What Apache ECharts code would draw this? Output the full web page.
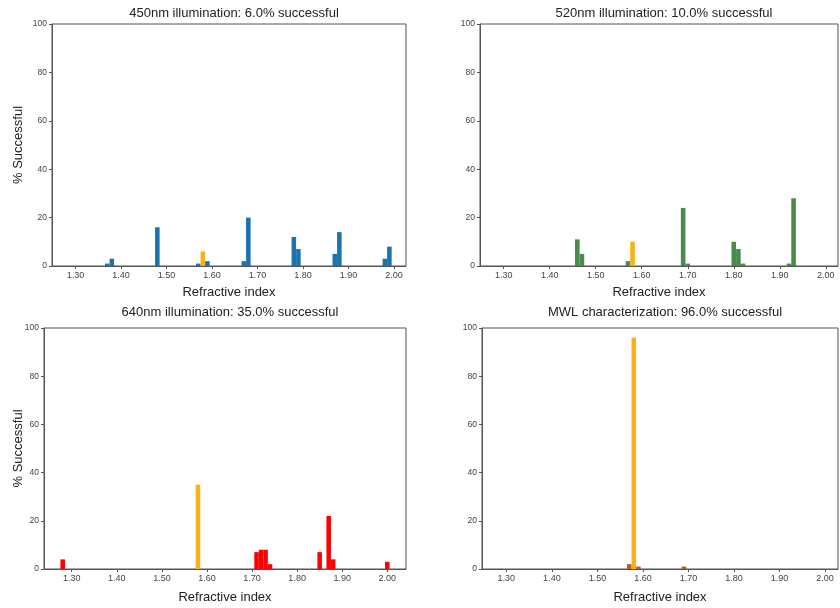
<!DOCTYPE html>
<html>
<head>
<meta charset="utf-8">
<script src="https://cdn.jsdelivr.net/npm/echarts@6/dist/echarts.min.js"></script>
<style>html,body{margin:0;padding:0;background:#fff;}#c{width:840px;height:608px;}</style>
</head>
<body>
<div id="c"></div>
<script>
// ---- data (bin centres of refractive index, % of runs) ----
const titles = [
  "450nm illumination: 6.0% successful",
  "520nm illumination: 10.0% successful",
  "640nm illumination: 35.0% successful",
  "MWL characterization: 96.0% successful"
];
const xTickLabels = [1.30, 1.40, 1.50, 1.60, 1.70, 1.80, 1.90, 2.00];
const yTickLabels = [0, 20, 40, 60, 80, 100];

const ri450 = [1.37, 1.38, 1.48, 1.57, 1.59, 1.67, 1.68, 1.78, 1.79, 1.87, 1.88, 1.98, 1.99];
const pct450 = [1, 3, 16, 1, 2, 2, 20, 12, 7, 5, 14, 3, 8];
const ri450ok = [1.58];
const pct450ok = [6];

const ri520 = [1.46, 1.47, 1.57, 1.69, 1.70, 1.80, 1.81, 1.82, 1.92, 1.93];
const pct520 = [11, 5, 2, 24, 1, 10, 7, 1, 1, 28];
const ri520ok = [1.58];
const pct520ok = [10];

const ri640 = [1.28, 1.71, 1.72, 1.73, 1.74, 1.85, 1.87, 1.88, 2.00];
const pct640 = [4, 7, 8, 8, 2, 7, 22, 4, 3];
const ri640ok = [1.58];
const pct640ok = [35];

const riMwl = [1.57, 1.59, 1.69];
const pctMwl = [2, 1, 1];
const riMwlOk = [1.58];
const pctMwlOk = [96];

const BIN = 0.01;

// ---- layout / style ----
const panels = [
  {grid:{left:52, top:24, width:354, height:242}, xr:[1.2485, 2.0265], ri:ri450, pct:pct450, riOk:ri450ok, pctOk:pct450ok, color:'#1b74ad', ylab:true, nameGap:20, yNameGap:27, titleOff:22},
  {grid:{left:480, top:24, width:358, height:242}, xr:[1.2485, 2.0265], ri:ri520, pct:pct520, riOk:ri520ok, pctOk:pct520ok, color:'#4a8a4a', ylab:false, nameGap:20, titleOff:22},
  {grid:{left:44, top:328, width:362, height:241}, xr:[1.2385, 2.0415], ri:ri640, pct:pct640, riOk:ri640ok, pctOk:pct640ok, color:'#ff0000', ylab:true, nameGap:22, yNameGap:19, titleOff:27},
  {grid:{left:482, top:328, width:356, height:241}, xr:[1.2465, 2.0285], ri:riMwl, pct:pctMwl, riOk:riMwlOk, pctOk:pctMwlOk, color:'#c0561e', ylab:false, nameGap:22, titleOff:27}
];
const okColor = '#fbb014';
const axisColor = '#555';
const labelColor = '#444';
const font = 'Liberation Sans, Arial, sans-serif';

function renderBar(params, api) {
  const x = api.value(0), y = api.value(1);
  const p0 = api.coord([x - BIN / 2, y]);
  const p1 = api.coord([x + BIN / 2, 0]);
  return {
    type: 'rect',
    shape: {x: p0[0], y: p0[1], width: p1[0] - p0[0], height: p1[1] - p0[1]},
    style: api.style()
  };
}

const option = {
  animation: false,
  backgroundColor: '#fff',
  title: [], grid: [], xAxis: [], yAxis: [], series: []
};

panels.forEach((p, i) => {
  option.title.push({
    text: titles[i],
    left: p.grid.left + p.grid.width / 2,
    top: p.grid.top - p.titleOff,
    textAlign: 'center',
    textStyle: {fontFamily: font, fontSize: 13, fontWeight: 'normal', color: '#222'}
  });
  option.grid.push(Object.assign({show: true, borderColor: axisColor, borderWidth: 1, backgroundColor: 'transparent'}, p.grid));
  option.xAxis.push({
    type: 'value', gridIndex: i, min: p.xr[0], max: p.xr[1],
    name: 'Refractive index', nameLocation: 'middle', nameGap: p.nameGap, nameMoveOverlap: false,
    nameTextStyle: {fontFamily: font, fontSize: 13, color: '#222'},
    axisLine: {show: true, onZero: false, lineStyle: {color: axisColor}},
    axisTick: {show: true, length: 3, lineStyle: {color: axisColor}, customValues: xTickLabels},
    axisLabel: {fontFamily: font, fontSize: 9, color: labelColor, margin: 5,
      customValues: xTickLabels, formatter: v => Number(v).toFixed(2)},
    splitLine: {show: false}
  });
  option.yAxis.push({
    type: 'value', gridIndex: i, min: 0, max: 100, interval: 20,
    name: p.ylab ? '% Successful' : '', nameLocation: 'middle', nameGap: p.yNameGap || 20, nameMoveOverlap: false,
    nameTextStyle: {fontFamily: font, fontSize: 13, color: '#222'},
    axisLine: {show: true, lineStyle: {color: axisColor}},
    axisTick: {show: true, length: 3, lineStyle: {color: axisColor}},
    axisLabel: {fontFamily: font, fontSize: 8.5, color: labelColor, margin: 5},
    splitLine: {show: false}
  });
  option.series.push({
    type: 'custom', xAxisIndex: i, yAxisIndex: i, renderItem: renderBar, clip: true,
    encode: {x: 0, y: 1},
    itemStyle: {color: p.color},
    data: p.ri.map((r, k) => [r, p.pct[k]])
  });
  option.series.push({
    type: 'custom', xAxisIndex: i, yAxisIndex: i, renderItem: renderBar, clip: true,
    encode: {x: 0, y: 1},
    itemStyle: {color: okColor},
    data: p.riOk.map((r, k) => [r, p.pctOk[k]])
  });
});

const chart = echarts.init(document.getElementById('c'), null, {renderer: 'canvas'});
chart.setOption(option);
</script>
</body>
</html>
